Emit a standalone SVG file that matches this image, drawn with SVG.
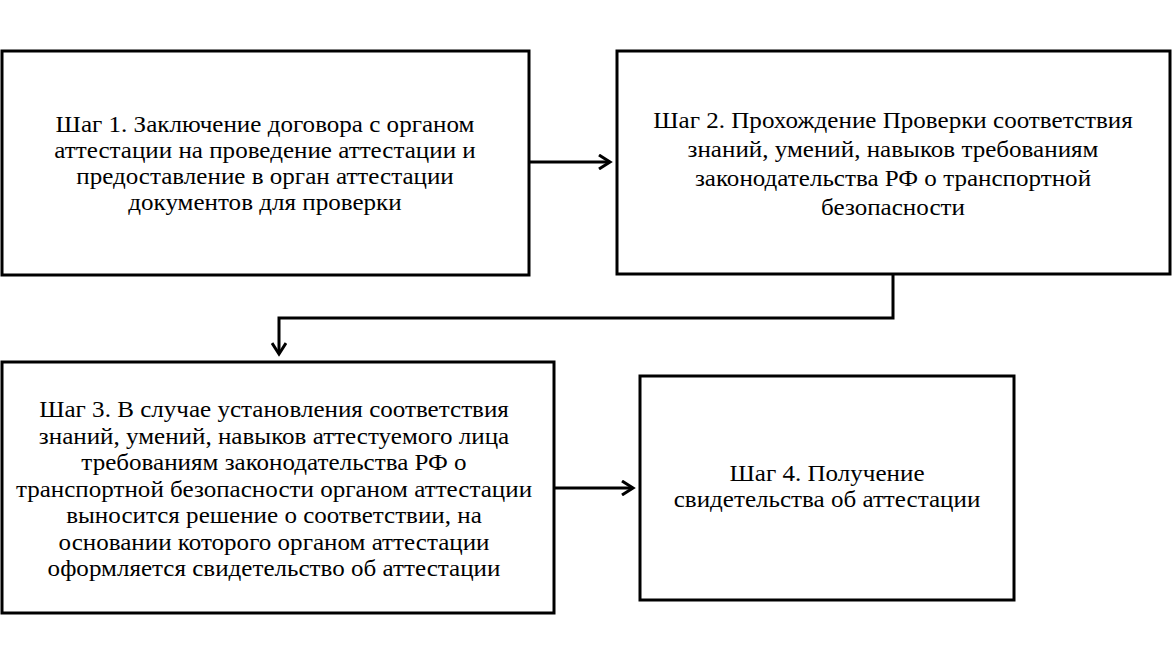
<svg xmlns="http://www.w3.org/2000/svg" width="1172" height="666" viewBox="0 0 1172 666">
<defs>
<style>
.box{fill:#fff;stroke:#000;stroke-width:3}
.t{font-family:"Liberation Serif","Times New Roman",serif;font-size:23px;fill:#000;text-anchor:middle}
.c{fill:none;stroke:#000;stroke-width:3}
</style>
<marker id="arr" markerWidth="16" markerHeight="16" refX="13" refY="8" orient="auto" markerUnits="userSpaceOnUse">
<path d="M2,1 L13,8 L2,15" fill="none" stroke="#000" stroke-width="3"/>
</marker>
</defs>
<rect width="1172" height="666" fill="#fff"/>
<g id="connectors">
<line class="c" x1="529" y1="162" x2="610" y2="162" marker-end="url(#arr)"/>
<polyline class="c" points="893,274 893,318 279,318 279,354" marker-end="url(#arr)"/>
<line class="c" x1="554" y1="488" x2="633" y2="488" marker-end="url(#arr)"/>
</g>
<g id="step1">
<rect class="box" x="2" y="51" width="527" height="224"/>
<g transform="translate(265,0) scale(1.09,1)">
<text class="t" x="0" y="132">Шаг 1. Заключение договора с органом</text>
<text class="t" x="0" y="158">аттестации на проведение аттестации и</text>
<text class="t" x="0" y="184">предоставление в орган аттестации</text>
<text class="t" x="0" y="210">документов для проверки</text>
</g>
</g>
<g id="step2">
<rect class="box" x="617" y="51" width="553" height="223"/>
<g transform="translate(893,0) scale(1.09,1)">
<text class="t" x="0" y="128">Шаг 2. Прохождение Проверки соответствия</text>
<text class="t" x="0" y="157">знаний, умений, навыков требованиям</text>
<text class="t" x="0" y="186">законодательства РФ о транспортной</text>
<text class="t" x="0" y="215">безопасности</text>
</g>
</g>
<g id="step3">
<rect class="box" x="2" y="362" width="552" height="251"/>
<g transform="translate(274,0) scale(1.09,1)">
<text class="t" x="0" y="417">Шаг 3. В случае установления соответствия</text>
<text class="t" x="0" y="444">знаний, умений, навыков аттестуемого лица</text>
<text class="t" x="0" y="470">требованиям законодательства РФ о</text>
<text class="t" x="0" y="497">транспортной безопасности органом аттестации</text>
<text class="t" x="0" y="523">выносится решение о соответствии, на</text>
<text class="t" x="0" y="550">основании которого органом аттестации</text>
<text class="t" x="0" y="576">оформляется свидетельство об аттестации</text>
</g>
</g>
<g id="step4">
<rect class="box" x="640" y="376" width="374" height="224"/>
<g transform="translate(827,0) scale(1.09,1)">
<text class="t" x="0" y="481">Шаг 4. Получение</text>
<text class="t" x="0" y="507">свидетельства об аттестации</text>
</g>
</g>
</svg>
